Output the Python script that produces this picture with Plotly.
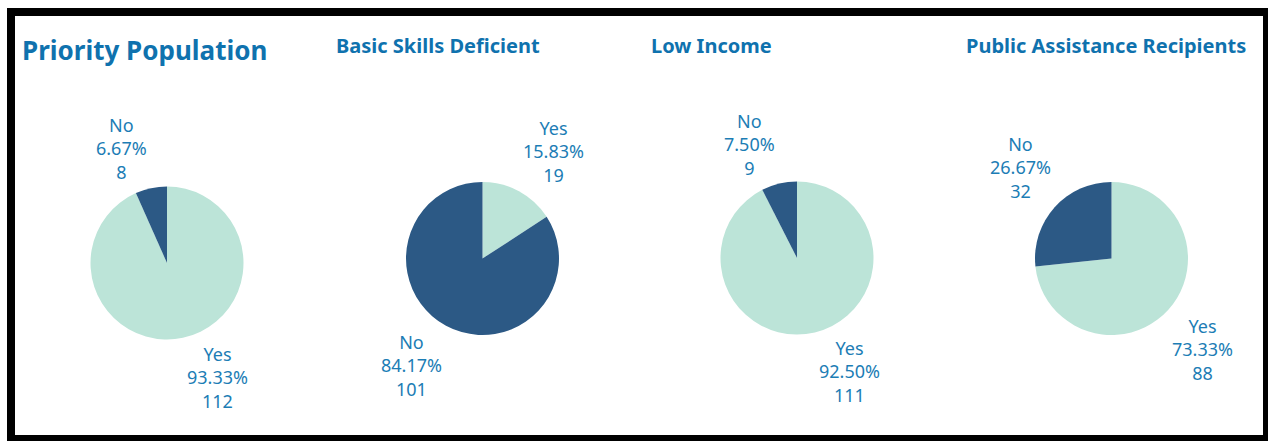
import math
import plotly.graph_objects as go

W, H = 1268, 441

titles = ["Priority Population", "Basic Skills Deficient", "Low Income", "Public Assistance Recipients"]
labels = ["Yes", "No"]
yes_counts = [112, 19, 111, 88]
no_counts = [8, 101, 9, 32]

slice_colors = ["#BCE4D8", "#2C5985"]
text_color = "#1C7DB5"
title_color = "#0F72AE"

# pie centres and radius in pixels
centers = [(167, 263), (482.5, 258.5), (797, 258), (1111.5, 258.5)]
radius = 76.5
label_gap = 3


def px_x(x):
    return x / W


def px_y(y):
    return 1 - y / H


fig = go.Figure()
annotations = []
for (cx, cy), yes, no in zip(centers, yes_counts, no_counts):
    values = [yes, no]
    total = sum(values)
    fig.add_trace(go.Pie(
        labels=labels,
        values=values,
        sort=False,
        direction="clockwise",
        rotation=0,
        marker=dict(colors=slice_colors, line=dict(width=0)),
        textinfo="none",
        domain=dict(x=[px_x(cx - radius), px_x(cx + radius)],
                    y=[px_y(cy + radius), px_y(cy - radius)]),
        showlegend=False,
        hoverinfo="label+percent+value",
    ))
    # outside labels: the label box touches the rim at the slice's mid angle
    start = 0.0
    for lab, v in zip(labels, values):
        frac = v / total
        mid = 2 * math.pi * (start + frac / 2)
        start += frac
        sx, sy = math.sin(mid), -math.cos(mid)
        px = cx + radius * sx
        py = cy + radius * sy
        annotations.append(dict(
            text=f"{lab}<br>{frac * 100:.2f}%<br>{v}",
            x=px_x(px), y=px_y(py), xref="paper", yref="paper",
            xanchor="left" if sx >= 0 else "right",
            yanchor="top" if sy >= 0 else "bottom",
            xshift=label_gap if sx >= 0 else -label_gap,
            yshift=-label_gap if sy >= 0 else label_gap,
            align="center", showarrow=False, borderpad=0,
            font=dict(family="Noto Sans", size=18, color=text_color),
        ))

# panel titles
title_pos = [(20, 50, 26), (334, 45, 20), (649, 45, 20), (964, 45, 20)]
for t, (x, y, s) in zip(titles, title_pos):
    annotations.append(dict(
        text=f"<b>{t}</b>", x=px_x(x), y=px_y(y), xref="paper", yref="paper",
        xanchor="left", yanchor="middle", showarrow=False,
        font=dict(family="Noto Sans", size=s, color=title_color),
    ))

# black frame around the dashboard
frame = [(7, 8, 1268, 16), (7, 8, 15, 441), (1263, 8, 1268, 441), (7, 435, 1268, 441)]
shapes = [dict(type="rect", xref="paper", yref="paper",
               x0=px_x(x0), x1=px_x(x1), y0=px_y(y1), y1=px_y(y0),
               fillcolor="black", line=dict(width=0), layer="above")
          for x0, y0, x1, y1 in frame]

fig.update_layout(
    width=W, height=H,
    margin=dict(l=0, r=0, t=0, b=0),
    paper_bgcolor="white", plot_bgcolor="white",
    annotations=annotations, shapes=shapes,
)

fig.write_html("out.html", config={"displayModeBar": False})
